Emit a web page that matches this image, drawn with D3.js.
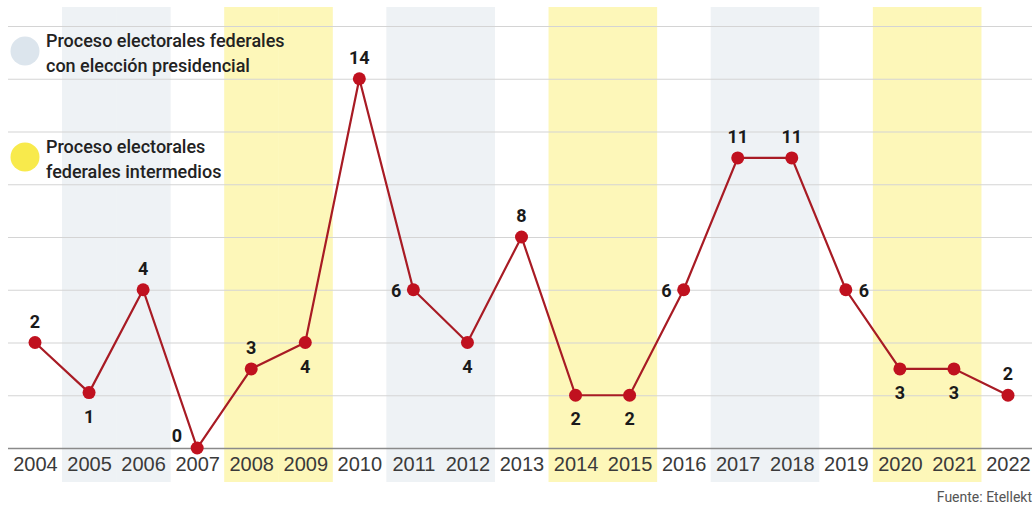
<!DOCTYPE html>
<html>
<head>
<meta charset="utf-8">
<script src="https://cdn.jsdelivr.net/npm/d3@7"></script>
<style>
    body { margin: 0; background: #fff; }
    svg { font-family: Roboto, "Noto Sans", sans-serif; }
    .grid line { stroke: #d4d4d4; stroke-width: 1.2; }
    .grid .domain { display: none; }
    .x-axis .domain { display: none; }
    .x-axis text { font-size: 20px; font-weight: 300; fill: #3a3a3a; }
    .point-label { font-size: 18px; font-weight: 700; fill: #1a1a1a; }
    .legend-text { font-size: 18px; font-weight: 500; fill: #222; }
</style>
</head>
<body>
<script>
const years = [2004, 2005, 2006, 2007, 2008, 2009, 2010, 2011, 2012, 2013, 2014, 2015, 2016, 2017, 2018, 2019, 2020, 2021, 2022]
// heights as plotted in the reference (first three points sit higher than their labels)
const plotValues = [4, 2.1, 6, 0, 3, 4, 14, 6, 4, 8, 2, 2, 6, 11, 11, 6, 3, 3, 2]
const labelValues = ['2', '1', '4', '0', '3', '4', '14', '6', '4', '8', '2', '2', '6', '11', '11', '6', '3', '3', '2']
const labelSide = ['above', 'below', 'above', 'leftAbove', 'above', 'below', 'above', 'left', 'below', 'above',
    'below', 'below', 'left', 'above', 'above', 'right', 'below', 'below', 'above']
const presidentialYears = [2005, 2006, 2011, 2012, 2017, 2018]
const midtermYears = [2008, 2009, 2014, 2015, 2020, 2021]
const gridTicks = [0, 2, 4, 6, 8, 10, 12, 14, 16]
const legendItems = [
    { color: '#dce5ed', lines: ['Proceso electorales federales', 'con elección presidencial'] },
    { color: '#f8ea4c', lines: ['Proceso electorales', 'federales intermedios'] }
]

var width = 1036, height = 508;

var svg = d3.select('body')
    .append('svg')
    .attr('width', width)
    .attr('height', height)

var x = d3.scalePoint()
    .domain(years)
    .range([35, 1008])
var step = x.step();

var y = d3.scaleLinear()
    .domain([0, 16])
    .range([448, 26])

// shaded election bands
function makeBands(list, color) {
    svg.append('g')
        .selectAll('rect')
        .data(list)
        .enter()
        .append('rect')
        .attr('x', d => x(d) - step / 2)
        .attr('y', 7)
        .attr('width', step + 0.5)
        .attr('height', 475)
        .style('fill', color)
}
makeBands(presidentialYears, '#eef2f5')
makeBands(midtermYears, '#fdf7b9')

// gridlines
svg.append('g')
    .attr('class', 'grid')
    .attr('transform', 'translate(8,0)')
    .call(d3.axisLeft(y).tickValues(gridTicks).tickSize(-1024).tickFormat(''))
    .selectAll('line')
    .filter(d => d === 0)
    .style('stroke', '#8a8a8a')
    .style('stroke-width', 1.5)

// x axis labels
svg.append('g')
    .attr('class', 'x-axis')
    .attr('transform', 'translate(0,448)')
    .call(d3.axisBottom(x).tickSize(0).tickPadding(9).tickFormat(d3.format('d')))

// legend
var legend = svg.selectAll('.legend')
    .data(legendItems)
    .enter()
    .append('g')
    .attr('class', 'legend')
    .attr('transform', (_, i) => 'translate(25,' + (i === 0 ? 51 : 157) + ')')

legend.append('circle')
    .attr('r', 14.5)
    .style('fill', d => d.color)

legend.append('text')
    .attr('class', 'legend-text')
    .selectAll('tspan')
    .data(d => d.lines)
    .enter()
    .append('tspan')
    .attr('x', 21)
    .attr('y', (_, i) => -4 + i * 25)
    .text(d => d)

// line + points
var pts = years.map((yr, i) => ({ year: yr, v: plotValues[i], label: labelValues[i], side: labelSide[i] }))

svg.append('path')
    .datum(pts)
    .attr('d', d3.line().x(d => x(d.year)).y(d => y(d.v)))
    .style('fill', 'none')
    .style('stroke', '#a81b24')
    .style('stroke-width', 2.2)

svg.append('g')
    .selectAll('circle')
    .data(pts)
    .enter()
    .append('circle')
    .attr('cx', d => x(d.year))
    .attr('cy', d => y(d.v))
    .attr('r', 6.5)
    .style('fill', '#c0111f')

var offsets = {
    above: { dx: 0, dy: -15, anchor: 'middle' },
    below: { dx: 0, dy: 30, anchor: 'middle' },
    left: { dx: -12, dy: 7, anchor: 'end' },
    right: { dx: 13, dy: 7, anchor: 'start' },
    leftAbove: { dx: -15, dy: -6, anchor: 'end' }
}

svg.append('g')
    .selectAll('text')
    .data(pts)
    .enter()
    .append('text')
    .attr('class', 'point-label')
    .attr('x', d => x(d.year) + offsets[d.side].dx)
    .attr('y', d => y(d.v) + offsets[d.side].dy)
    .attr('text-anchor', d => offsets[d.side].anchor)
    .text(d => d.label)

svg.append('text')
    .attr('x', 1032)
    .attr('y', 502)
    .attr('text-anchor', 'end')
    .style('font-size', '14px')
    .style('fill', '#555')
    .text('Fuente: Etellekt')
</script>
</body>
</html>
